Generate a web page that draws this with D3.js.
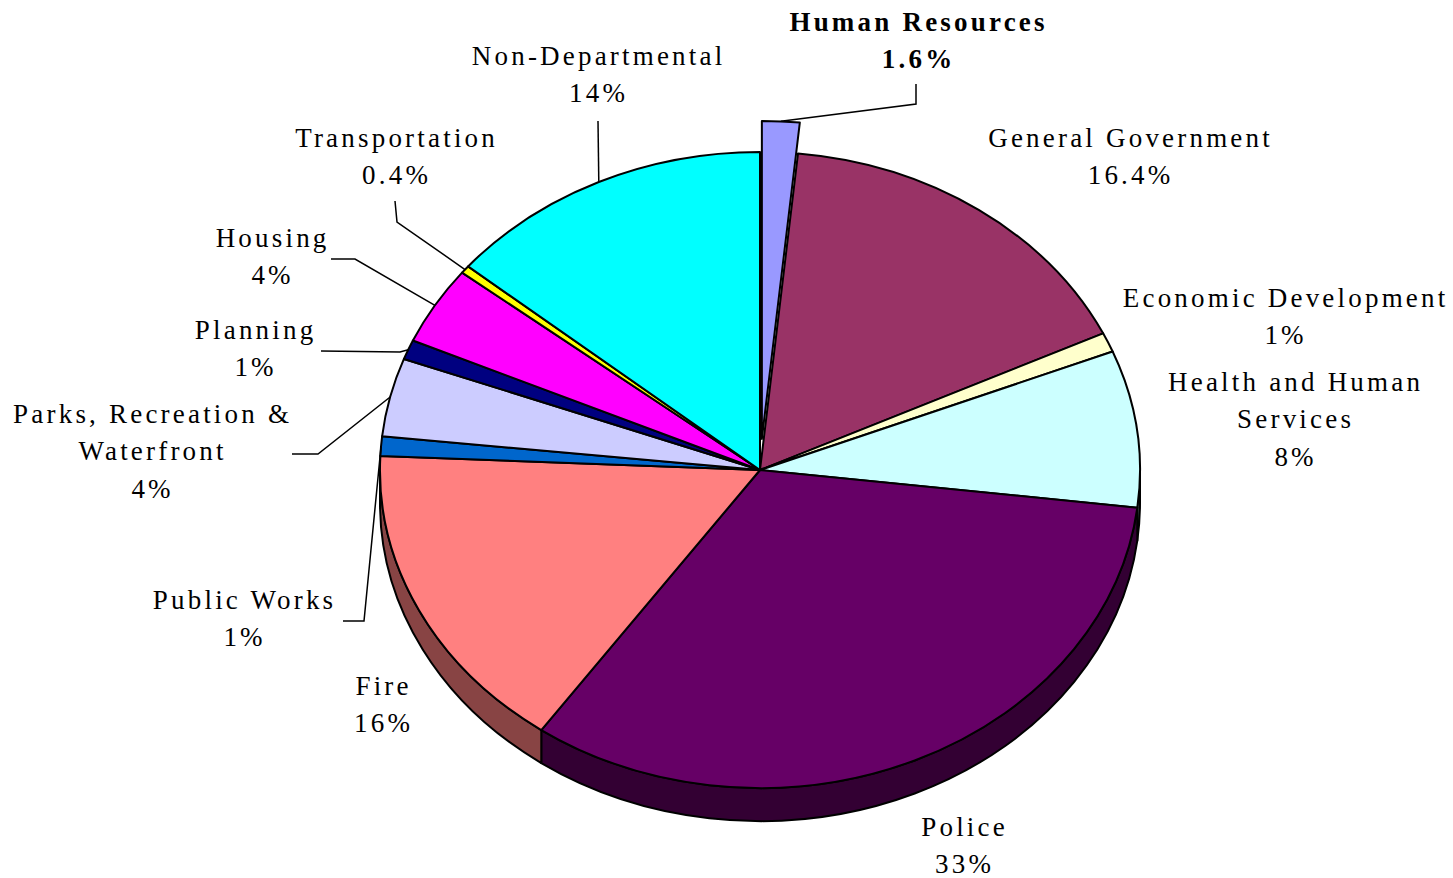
<!DOCTYPE html>
<html>
<head>
<meta charset="utf-8">
<script src="https://cdn.jsdelivr.net/npm/d3@7"></script>
<style>
  body { margin: 0; background: #fff; }
  text { font-family: "Liberation Serif", "Times New Roman", serif; font-size: 27px; letter-spacing: 3.2px; fill: #000; }
</style>
</head>
<body>
<div id="chart"></div>
<script>
// data, clockwise from 12 o'clock
const categories = ["Human Resources", "General Government", "Economic Development", "Health and Human Services",
  "Police", "Fire", "Public Works", "Parks, Recreation & Waterfront", "Planning", "Housing", "Transportation", "Non-Departmental"];
const values = [1.6, 16.4, 1, 8, 33, 16, 1, 4, 1, 4, 0.4, 14];
const pctLabels = ["1.6%", "16.4%", "1%", "8%", "33%", "16%", "1%", "4%", "1%", "4%", "0.4%", "14%"];
const topColors = ["#9999ff", "#993366", "#ffffcc", "#ccffff", "#660066", "#ff8080", "#0066cc", "#ccccff", "#000080", "#ff00ff", "#ffff00", "#00ffff"];
const sideColors = ["#4d4d80", "#4d1a33", "#808066", "#668080", "#330033", "#884444", "#003366", "#666680", "#000040", "#800080", "#808000", "#008080"];

// label layout: text lines, anchor x, first baseline, leader elbow points (label end last)
const labelLayout = [
  { lines: ["Human Resources"], x: 917, y: 31, bold: true, leader: [[916, 104], [916, 84]] },
  { lines: ["General Government"], x: 1129, y: 147 },
  { lines: ["Economic Development"], x: 1284, y: 307 },
  { lines: ["Health and Human", "Services"], x: 1294, y: 391 },
  { lines: ["Police"], x: 963, y: 836 },
  { lines: ["Fire"], x: 382, y: 695 },
  { lines: ["Public Works"], x: 243, y: 609, leader: [[364, 621], [343, 621]] },
  { lines: ["Parks, Recreation &", "Waterfront"], x: 151, y: 423, leader: [[318, 454], [292, 454]] },
  { lines: ["Planning"], x: 254, y: 339, leader: [[400, 352], [321, 351]] },
  { lines: ["Housing"], x: 271, y: 247, leader: [[355, 259], [331, 259]] },
  { lines: ["Transportation"], x: 395, y: 147, leader: [[397, 222], [395, 201]] },
  { lines: ["Non-Departmental"], x: 597, y: 65, leader: [[598, 121]] }
];

const W = 1453, H = 878;
const cx = 760, cy = 470, rx = 380, ry = 318, depth = 33;
const explodeIdx = 0, explode = 0.098;
const lineGap = 37.3;

const svg = d3.select("#chart").append("svg").attr("width", W).attr("height", H);

const pie = d3.pie().sort(null).value(d => d)(values);

// project angle (clockwise from top) onto the tilted ellipse
const px = d3.scaleLinear().domain([-1, 1]).range([cx - rx, cx + rx]);
const py = d3.scaleLinear().domain([-1, 1]).range([cy + ry, cy - ry]);
function pt(a, k, off) {
  off = off || [0, 0];
  return [px(k * Math.sin(a)) + off[0], py(k * Math.cos(a)) + off[1]];
}
function offsetOf(i) {
  if (i !== explodeIdx) return [0, 0];
  const m = (pie[i].startAngle + pie[i].endAngle) / 2;
  return [rx * explode * Math.sin(m), -ry * explode * Math.cos(m)];
}

function topPath(d, off) {
  const c = [cx + off[0], cy + off[1]];
  const p0 = pt(d.startAngle, 1, off), p1 = pt(d.endAngle, 1, off);
  const large = d.endAngle - d.startAngle > Math.PI ? 1 : 0;
  return `M${c}L${p0}A${rx},${ry} 0 ${large} 1 ${p1}Z`;
}
function sidePath(d, off) {
  const s = Math.max(d.startAngle, Math.PI / 2), e = Math.min(d.endAngle, 3 * Math.PI / 2);
  if (e <= s) return null;
  const p0 = pt(s, 1, off), p1 = pt(e, 1, off);
  return `M${p0}A${rx},${ry} 0 0 1 ${p1}L${p1[0]},${p1[1] + depth}A${rx},${ry} 0 0 0 ${p0[0]},${p0[1] + depth}Z`;
}

const gSide = svg.append("g");
const gTop = svg.append("g");

pie.forEach((d, i) => {
  const off = offsetOf(i);
  const sp = sidePath(d, off);
  if (sp) gSide.append("path").attr("d", sp).attr("fill", sideColors[i])
    .attr("stroke", "#000").attr("stroke-width", 2).attr("stroke-linejoin", "round");
});

const order = d3.range(pie.length).filter(i => i !== explodeIdx).concat([explodeIdx]);
order.forEach(i => {
  gTop.append("path").attr("d", topPath(pie[i], offsetOf(i))).attr("fill", topColors[i])
    .attr("stroke", "#000").attr("stroke-width", 2).attr("stroke-linejoin", "round");
});

// leader lines
const gLead = svg.append("g");
labelLayout.forEach((lab, i) => {
  if (!lab.leader) return;
  const d = pie[i];
  const anchor = pt((d.startAngle + d.endAngle) / 2, 1, offsetOf(i));
  gLead.append("path").attr("d", d3.line()([anchor].concat(lab.leader)))
    .attr("fill", "none").attr("stroke", "#000").attr("stroke-width", 1.5);
});

// labels (shift by half the trailing letter-spacing so the text stays centred)
const gLab = svg.append("g");
labelLayout.forEach((lab, i) => {
  const t = gLab.append("text").attr("text-anchor", "middle")
    .attr("font-weight", lab.bold ? "bold" : null);
  lab.lines.concat([pctLabels[i]]).forEach((s, j) => {
    t.append("tspan").attr("x", lab.x + 1.6).attr("y", lab.y + j * lineGap).text(s);
  });
});
</script>
</body>
</html>
